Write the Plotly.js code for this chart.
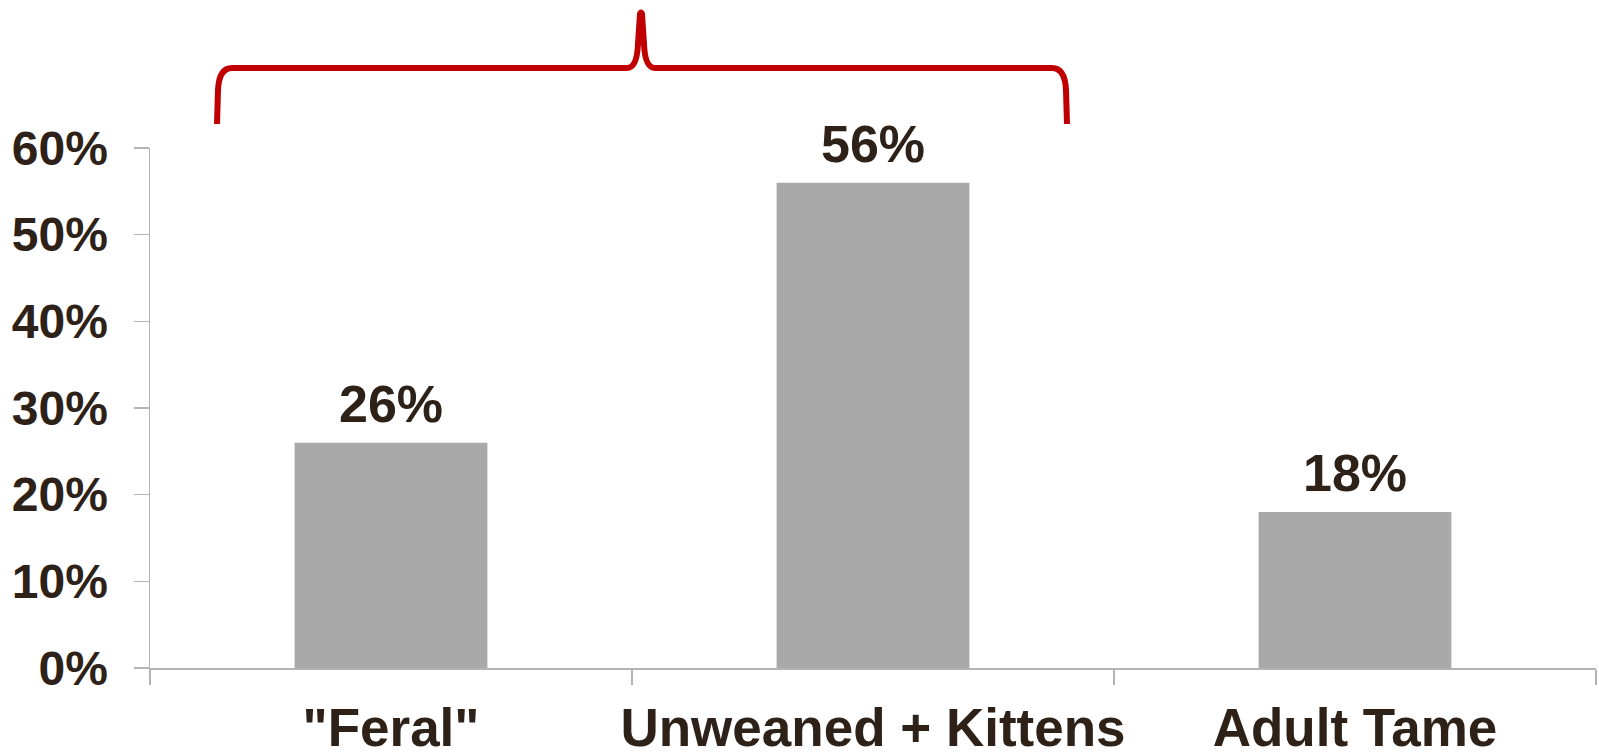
<!DOCTYPE html>
<html>
<head>
<meta charset="utf-8">
<script src="https://cdn.plot.ly/plotly-3.0.1.min.js"></script>
<style>
  html, body { margin: 0; padding: 0; background: #ffffff; }
  #chart { width: 1599px; height: 755px; }
</style>
</head>
<body>
<div id="chart"></div>
<script>
// ---- data ----
const categories = ['"Feral"', 'Unweaned + Kittens', 'Adult Tame'];
const shares = [0.26, 0.56, 0.18];
const shareLabels = ['26%', '56%', '18%'];
const yTickValues = [0, 0.1, 0.2, 0.3, 0.4, 0.5, 0.6];
const yTickLabels = ['0%', '10%', '20%', '30%', '40%', '50%', '60%'];

// ---- style ----
const TEXT = '#2d2118';
const FONT = 'Liberation Sans, Arial, Helvetica, sans-serif';
const AXIS = '#b3b3b3';
const BAR = '#a9a9a9';
const RED = '#c00000';

const W = 1599, H = 755;
const M = { l: 150, r: 3, t: 148, b: 87 };
const PW = W - M.l - M.r, PH = H - M.t - M.b;
// decoration helper: pixel position -> paper coordinates
function px(x) { return ((x - M.l) / PW).toFixed(5); }
function py(y) { return ((H - M.b - y) / PH).toFixed(5); }
function P(x, y) { return px(x) + ',' + py(y); }

const bracePath =
  'M ' + P(217, 124) +
  ' L ' + P(218, 90) +
  ' Q ' + P(219, 68) + ' ' + P(232, 68) +
  ' L ' + P(627, 68) +
  ' Q ' + P(637, 68) + ' ' + P(638, 44) +
  ' L ' + P(640, 14) +
  ' Q ' + P(641, 11) + ' ' + P(642, 14) +
  ' L ' + P(644, 44) +
  ' Q ' + P(645, 68) + ' ' + P(655, 68) +
  ' L ' + P(1052, 68) +
  ' Q ' + P(1065, 68) + ' ' + P(1066, 90) +
  ' L ' + P(1067, 124);

const trace = {
  type: 'bar',
  x: categories,
  y: shares,
  marker: { color: BAR, line: { width: 0 } },
  hoverinfo: 'skip'
};

const annotations = categories.map((c, i) => ({
  x: c, y: shares[i], xref: 'x', yref: 'y',
  text: shareLabels[i], showarrow: false,
  yanchor: 'bottom', yshift: 8,
  font: { family: FONT, size: 52, color: TEXT, weight: 'bold' }
}));

const layout = {
  width: W, height: H,
  margin: M,
  paper_bgcolor: '#ffffff',
  plot_bgcolor: '#ffffff',
  showlegend: false,
  bargap: 0.6,
  xaxis: {
    type: 'category',
    range: [-0.5, 2.5],
    automargin: false,
    showline: true, linecolor: AXIS, linewidth: 1.5,
    ticks: 'outside', tickson: 'boundaries', ticklen: 15, tickcolor: AXIS, tickwidth: 1.5,
    showgrid: false, zeroline: false,
    tickangle: 0,
    tickfont: { family: FONT, size: 53, color: TEXT, weight: 'bold' },
    ticklabelstandoff: 13
  },
  yaxis: {
    range: [0, 0.6],
    automargin: false,
    tickmode: 'array', tickvals: yTickValues, ticktext: yTickLabels,
    showline: true, linecolor: AXIS, linewidth: 1.5,
    ticks: 'outside', ticklen: 15, tickcolor: AXIS, tickwidth: 1.5,
    showgrid: false, zeroline: false,
    tickfont: { family: FONT, size: 48, color: TEXT, weight: 'bold' },
    ticklabelstandoff: 16
  },
  annotations: annotations,
  shapes: [{
    type: 'path', xref: 'paper', yref: 'paper',
    path: bracePath,
    line: { color: RED, width: 6 },
    fillcolor: 'rgba(0,0,0,0)'
  }]
};

Plotly.newPlot('chart', [trace], layout, { displayModeBar: false, staticPlot: true });
</script>
</body>
</html>
